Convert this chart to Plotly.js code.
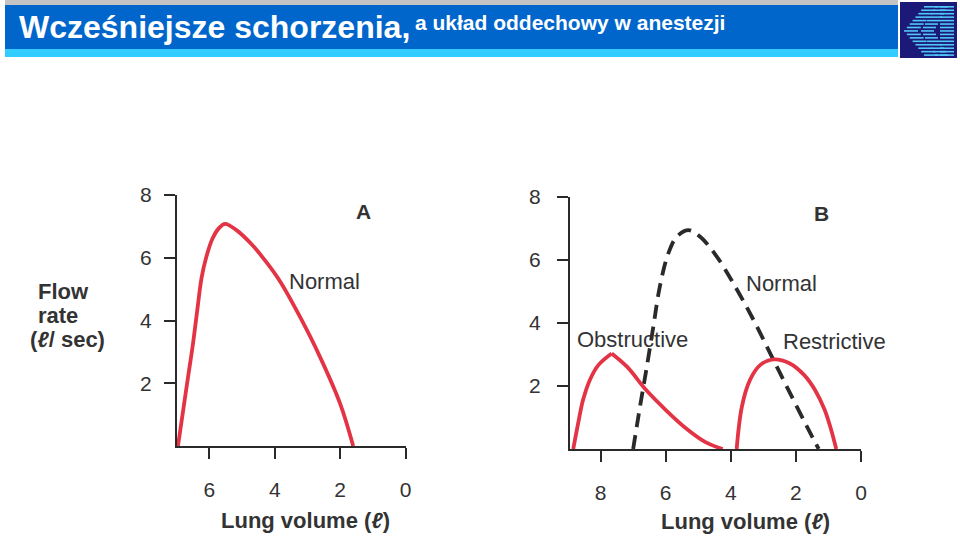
<!DOCTYPE html>
<html>
<head>
<meta charset="utf-8">
<script src="https://cdn.plot.ly/plotly-3.0.1.min.js"></script>
<style>html,body{margin:0;padding:0;background:#fff;}#chart{width:960px;height:546px;}</style>
</head>
<body>
<div id="chart"></div>
<script>
// ---- Data ----
// Panel A: normal flow-volume curve
const normalA_volume = [6.96, 6.80, 6.65, 6.50, 6.37, 6.24, 6.10, 5.90, 5.70, 5.52, 5.17, 4.70, 4.25, 3.84, 3.23, 2.62, 2.00, 1.60];
const normalA_flow   = [0.00, 1.15, 2.21, 3.27, 4.33, 5.35, 6.00, 6.62, 6.95, 7.08, 6.88, 6.42, 5.85, 5.25, 4.12, 2.85, 1.35, 0.00];

// Panel B: normal (dashed), obstructive, restrictive
const normalB_volume = [7.00, 6.79, 6.58, 6.38, 6.18, 5.92, 5.66, 5.30, 4.94, 4.43, 3.92, 3.30, 2.74, 2.18, 1.66, 1.30];
const normalB_flow   = [0.00, 1.34, 2.61, 3.88, 5.15, 6.20, 6.73, 6.94, 6.73, 6.10, 5.25, 4.09, 2.93, 1.77, 0.71, 0.00];
const obstructive_volume = [8.84, 8.69, 8.54, 8.33, 8.07, 7.66, 7.19, 6.60, 5.98, 5.38, 4.78, 4.25];
const obstructive_flow   = [0.00, 0.81, 1.55, 2.19, 2.66, 3.03, 2.61, 1.87, 1.22, 0.66, 0.22, 0.00];
const restrictive_volume = [3.82, 3.66, 3.41, 3.10, 2.69, 2.20, 1.75, 1.40, 1.12, 0.92, 0.76];
const restrictive_flow   = [0.00, 1.34, 2.19, 2.66, 2.84, 2.72, 2.35, 1.85, 1.25, 0.62, 0.00];

const yTicks = [2, 4, 6, 8];
const xTicksA = [6, 4, 2, 0];
const xTicksB = [8, 6, 4, 2, 0];

const titleMain = "Wcześniejsze schorzenia,";
const titleSub = "a układ oddechowy w anestezji";
const xTitle = "Lung volume (<i>ℓ</i>)";
const yTitleLines = ["Flow", "rate", "(<i>ℓ</i>/ sec)"];

// ---- Styles ----
const RED = '#e33445';
const INK = '#2a2a2a';
const TXT = '#333333';
const FONT = 'Liberation Sans, Arial, sans-serif';
const W = 960, H = 546;
const px = x => x / W;
const py = y => 1 - y / H;

// split obstructive at its peak so the corner stays sharp
const pk = obstructive_flow.indexOf(Math.max(...obstructive_flow));
const redLine = {color: RED, width: 3.8, shape: 'spline', smoothing: 1.0};

const traces = [
  {x: normalA_volume, y: normalA_flow, xaxis: 'x', yaxis: 'y', mode: 'lines', line: redLine},
  {x: normalB_volume, y: normalB_flow, xaxis: 'x2', yaxis: 'y2', mode: 'lines',
   line: {color: INK, width: 3.8, shape: 'spline', smoothing: 1.0, dash: '14px,8px'}},
  {x: obstructive_volume.slice(0, pk + 1), y: obstructive_flow.slice(0, pk + 1), xaxis: 'x2', yaxis: 'y2', mode: 'lines', line: redLine},
  {x: obstructive_volume.slice(pk), y: obstructive_flow.slice(pk), xaxis: 'x2', yaxis: 'y2', mode: 'lines', line: redLine},
  {x: restrictive_volume, y: restrictive_flow, xaxis: 'x2', yaxis: 'y2', mode: 'lines', line: redLine}
];

const axCommon = {
  showgrid: false, zeroline: false, showline: true, linecolor: INK, linewidth: 2,
  ticks: 'outside', ticklen: 11, tickwidth: 2, tickcolor: INK,
  tickfont: {family: FONT, size: 21, color: TXT}, fixedrange: true
};

// header shapes
const shapes = [
  {type: 'rect', xref: 'paper', yref: 'paper', x0: px(5), x1: px(898), y0: py(5), y1: py(0), fillcolor: '#c4c4c4', line: {width: 0}, layer: 'below'},
  {type: 'rect', xref: 'paper', yref: 'paper', x0: px(5), x1: px(898), y0: py(49), y1: py(5), fillcolor: '#0066cc', line: {width: 0}, layer: 'below'},
  {type: 'rect', xref: 'paper', yref: 'paper', x0: px(5), x1: px(898), y0: py(57), y1: py(49), fillcolor: '#33ccff', line: {width: 0}, layer: 'below'},
  {type: 'rect', xref: 'paper', yref: 'paper', x0: px(900), x1: px(957), y0: py(58), y1: py(2), fillcolor: '#1b1a78', line: {width: 0}, layer: 'below'}
];
// logo stripes (decorative)
for (let i = 0; i < 15; i++) {
  const yy = 6 + i * 3.45;
  const d = Math.abs(i - 7) / 7;
  const segs = [[904 + d * 20, 14], [921 + d * 14, 13], [940, 14]];
  segs.forEach(([x0, len]) => {
    shapes.push({type: 'rect', xref: 'paper', yref: 'paper', x0: px(x0), x1: px(Math.min(x0 + len, 955)),
      y0: py(yy + 1.6), y1: py(yy), fillcolor: '#4fc8f5', line: {width: 0}, layer: 'above'});
  });
}

const annotations = [
  {xref: 'paper', yref: 'paper', x: px(17), y: py(27), xanchor: 'left', yanchor: 'middle', showarrow: false,
   text: '<b>' + titleMain + '</b>', font: {family: FONT, size: 32, color: '#ffffff'}},
  {xref: 'paper', yref: 'paper', x: px(413), y: py(23), xanchor: 'left', yanchor: 'middle', showarrow: false,
   text: '<b>' + titleSub + '</b>', font: {family: FONT, size: 21, color: '#ffffff'}},
  // axis titles
  {xref: 'paper', yref: 'paper', x: px(305), y: py(520), xanchor: 'center', yanchor: 'middle', showarrow: false,
   text: '<b>' + xTitle + '</b>', font: {family: FONT, size: 22, color: TXT}},
  {xref: 'paper', yref: 'paper', x: px(745), y: py(521), xanchor: 'center', yanchor: 'middle', showarrow: false,
   text: '<b>' + xTitle + '</b>', font: {family: FONT, size: 22, color: TXT}},
  {xref: 'paper', yref: 'paper', x: px(36), y: py(291), xanchor: 'left', yanchor: 'middle', showarrow: false,
   text: '<b>' + yTitleLines[0] + '</b>', font: {family: FONT, size: 22, color: TXT}},
  {xref: 'paper', yref: 'paper', x: px(36), y: py(315), xanchor: 'left', yanchor: 'middle', showarrow: false,
   text: '<b>' + yTitleLines[1] + '</b>', font: {family: FONT, size: 22, color: TXT}},
  {xref: 'paper', yref: 'paper', x: px(28), y: py(339), xanchor: 'left', yanchor: 'middle', showarrow: false,
   text: '<b>' + yTitleLines[2] + '</b>', font: {family: FONT, size: 22, color: TXT}},
  // panel labels
  {xref: 'x', yref: 'y', x: 1.27, y: 7.46, showarrow: false, text: '<b>A</b>', font: {family: FONT, size: 21, color: TXT}},
  {xref: 'x2', yref: 'y2', x: 1.22, y: 7.48, showarrow: false, text: '<b>B</b>', font: {family: FONT, size: 21, color: TXT}},
  {xref: 'x', yref: 'y', x: 2.48, y: 5.23, showarrow: false, text: 'Normal', font: {family: FONT, size: 22, color: TXT}},
  {xref: 'x2', yref: 'y2', x: 2.43, y: 5.26, showarrow: false, text: 'Normal', font: {family: FONT, size: 22, color: TXT}},
  {xref: 'x2', yref: 'y2', x: 7.01, y: 3.46, showarrow: false, text: 'Obstructive', font: {family: FONT, size: 22, color: TXT}},
  {xref: 'x2', yref: 'y2', x: 0.82, y: 3.42, showarrow: false, text: 'Restrictive', font: {family: FONT, size: 22, color: TXT}}
];

const layout = {
  width: W, height: H, margin: {l: 0, r: 0, t: 0, b: 0},
  paper_bgcolor: '#ffffff', plot_bgcolor: 'rgba(0,0,0,0)',
  showlegend: false,
  xaxis: Object.assign({}, axCommon, {domain: [px(177), px(405.5)], range: [6.99, 0], tickvals: xTicksA, ticklabelstandoff: 13, anchor: 'y'}),
  yaxis: Object.assign({}, axCommon, {domain: [py(446), py(195)], range: [0, 8], tickvals: yTicks, ticklabelstandoff: 8, anchor: 'x'}),
  xaxis2: Object.assign({}, axCommon, {domain: [px(570), px(861)], range: [8.94, 0], tickvals: xTicksB, ticklabelstandoff: 13, anchor: 'y2'}),
  yaxis2: Object.assign({}, axCommon, {domain: [py(449), py(196.7)], range: [0, 8], tickvals: yTicks, ticklabelstandoff: 12, anchor: 'x2'}),
  shapes: shapes,
  annotations: annotations
};

Plotly.newPlot('chart', traces, layout, {staticPlot: true, displayModeBar: false});
</script>
</body>
</html>
